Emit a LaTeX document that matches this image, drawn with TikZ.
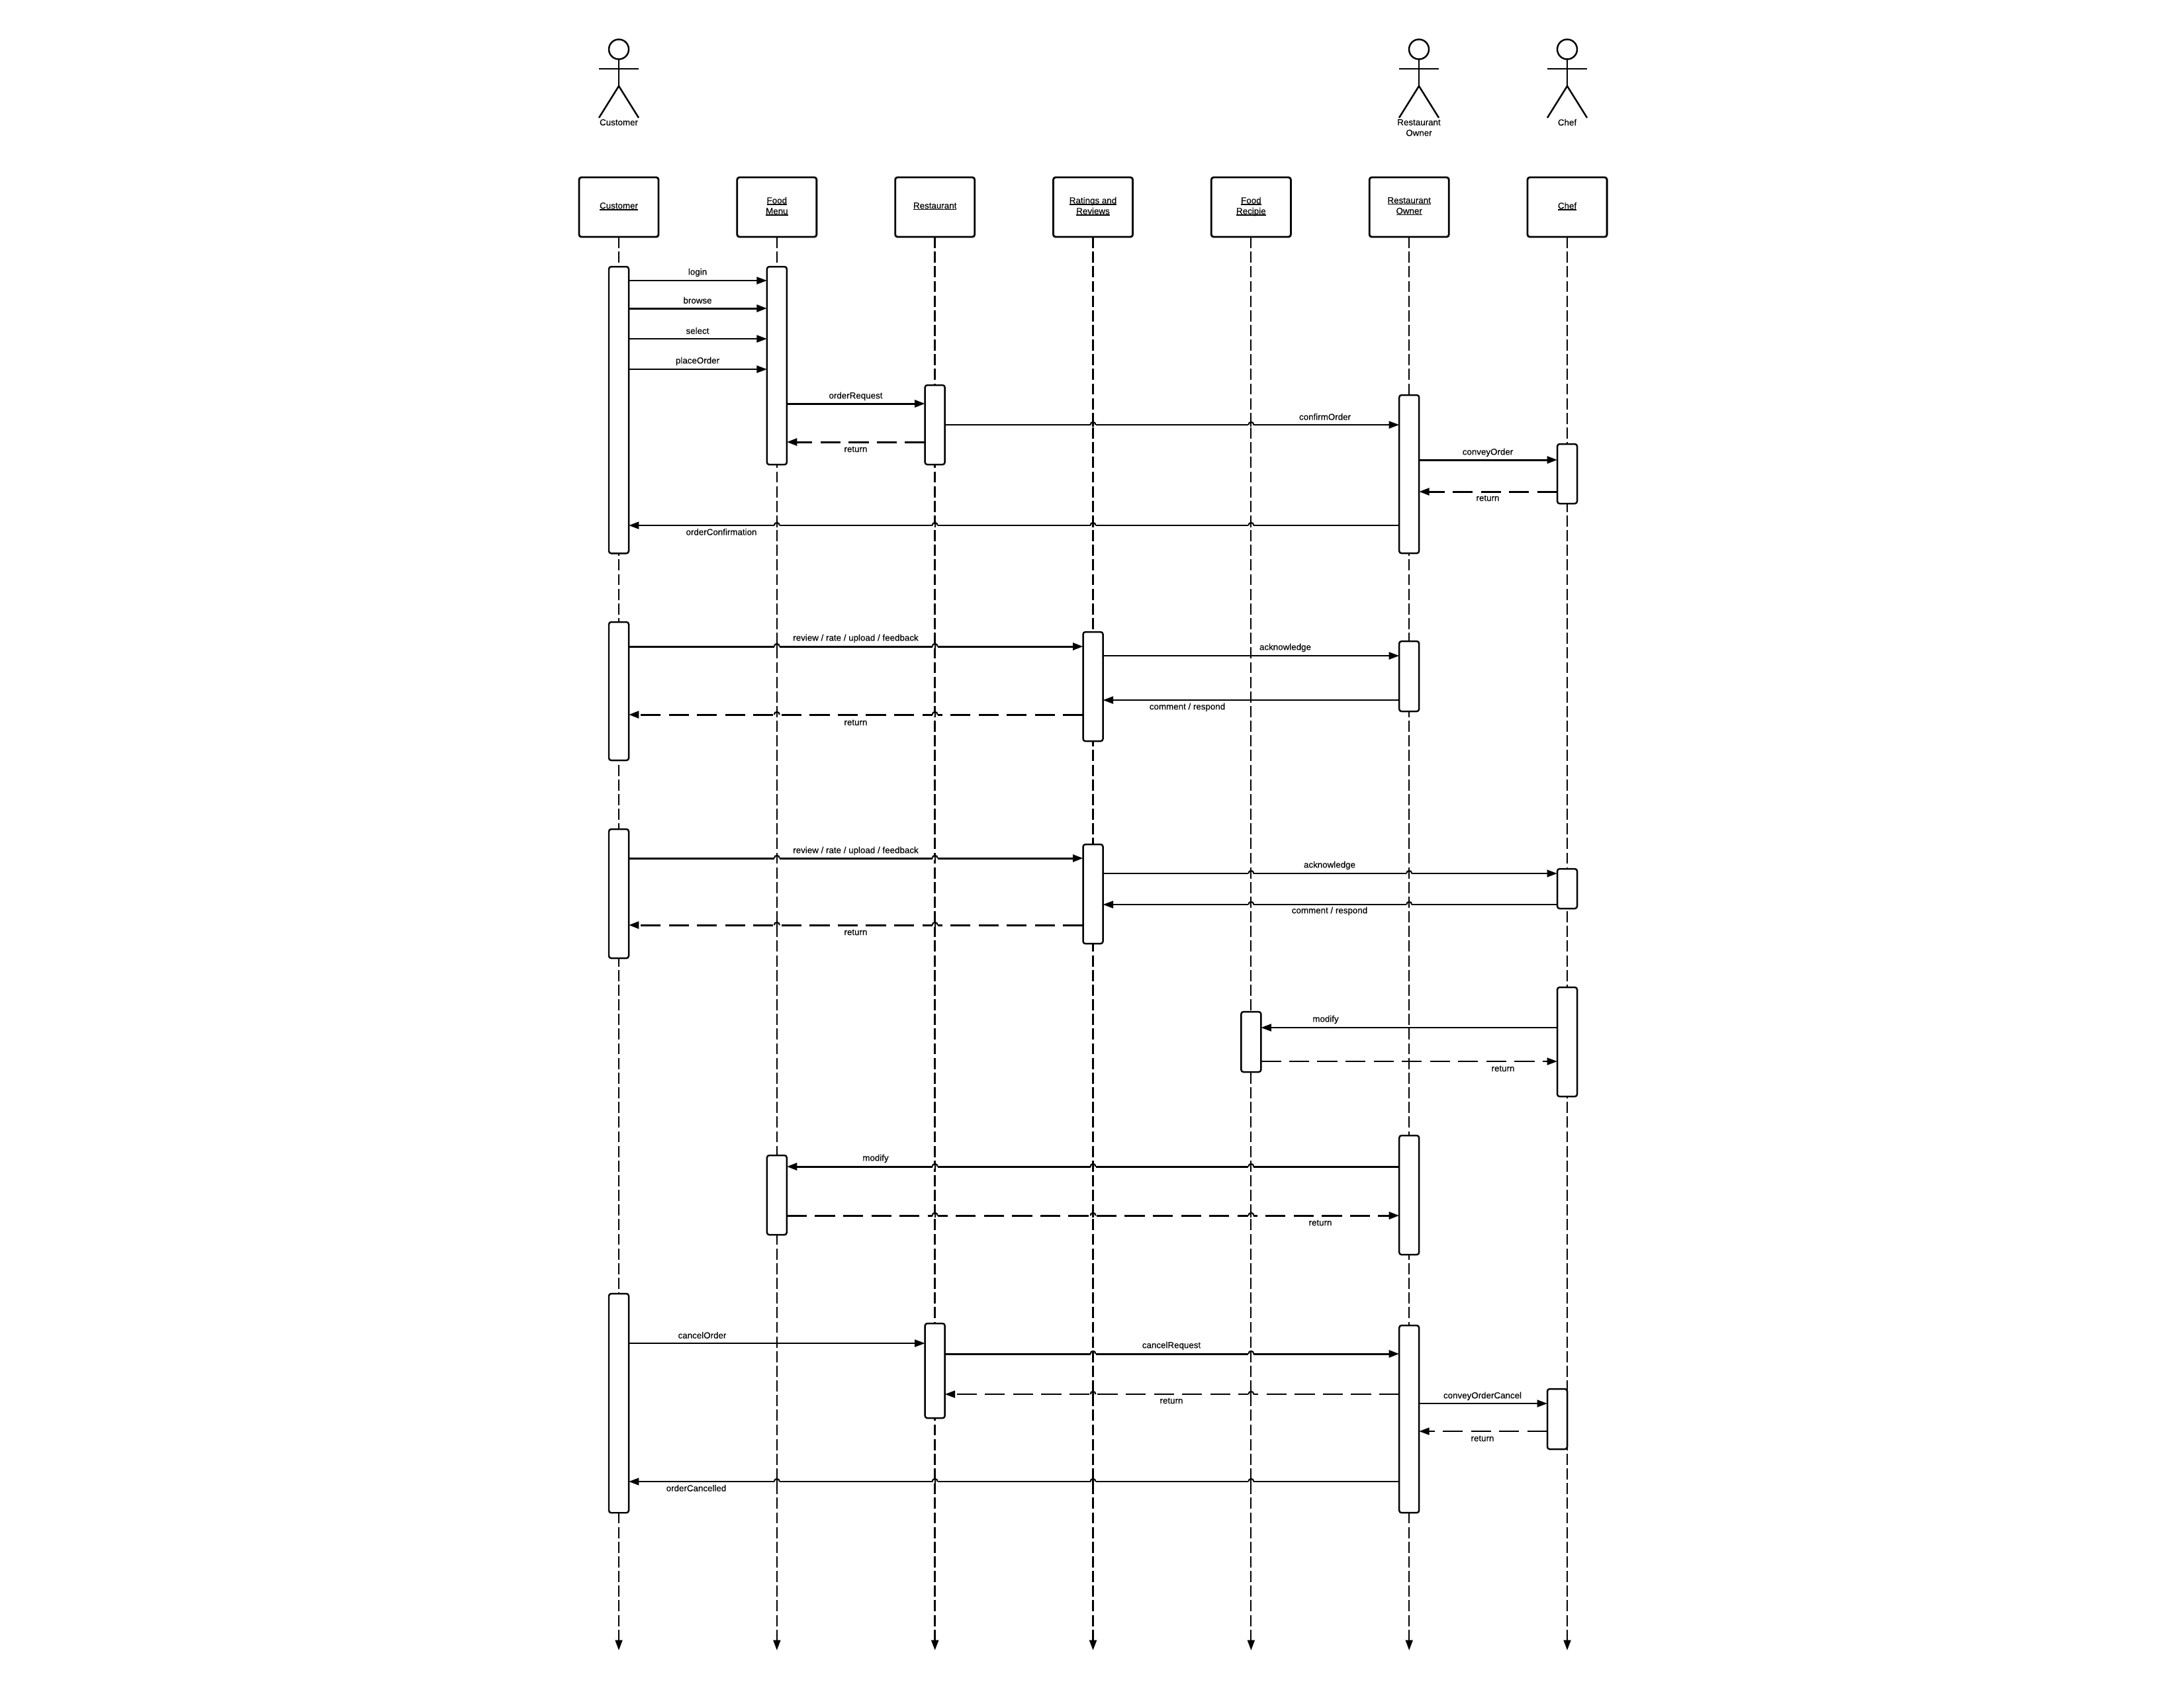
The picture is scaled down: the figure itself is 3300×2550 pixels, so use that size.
\documentclass[tikz,border=0pt]{standalone}
\usepackage{fontspec}
\setmainfont{Liberation Sans}[FakeBold=0.25]
\usetikzlibrary{arrows.meta,positioning}
\newlength{\ulwd}
\newcommand{\ul}[1]{\settowidth{\ulwd}{#1}#1\kern-\ulwd\rule[-0.6pt]{\ulwd}{0.42pt}}
\newcommand{\hop}[2]{\begin{scope}[shift={(#1.south |- 0,#2)}]
    \fill[white] (-4,-2.5) rectangle (4,2.5);
    \draw[line width=0.6pt] (-4,0) .. controls (-4,-5.5) and (4,-5.5) .. (4,0);
    \draw[line width=0.6pt] (0,-5) -- (0,2.5);
\end{scope}}

\begin{document}
\begin{tikzpicture}[
    x=0.01cm, y=-0.01cm,
    node distance=1.187cm,
    >={Triangle[length=4.4pt,width=3.1pt]},
    headbox/.style={rectangle, draw, line width=0.8pt, rounded corners=1pt, fill=white, outer sep=0pt, minimum width=1.2cm, minimum height=0.9cm, align=center, text depth=1.3pt, font=\fontsize{3.8pt}{4.55pt}\selectfont},
    act/.style={rectangle, draw, line width=0.7pt, rounded corners=1pt, fill=white, outer sep=0pt, inner sep=0pt, minimum width=0.3cm, anchor=north},
    lbl/.style={inner sep=0pt, align=center, yshift=-0.25pt, font=\fontsize{3.8pt}{4.55pt}\selectfont},
    life/.style={->, line width=0.6pt, dash pattern=on 4.8pt off 1.5pt},
    lifeb/.style={->, line width=0.8pt, dash pattern=on 4.8pt off 1.5pt},
    msg/.style={->, line width=0.65pt},
    msgb/.style={->, line width=0.85pt},
    ret/.style={->, line width=0.65pt, dash pattern=on 8.6pt off 3.5pt},
    retb/.style={->, line width=0.85pt, dash pattern=on 8.6pt off 3.5pt},
    stickman/.pic={
        \draw[line width=0.7pt] (0,15.5) circle[radius=15];
        \draw[line width=0.7pt] (-30,45) -- (30,45);
        \draw[line width=0.7pt] (0,31) -- (0,71);
        \draw[line width=0.7pt] (-30,119) -- (0,71) -- (30,119);
    }
]
    \useasboundingbox (0,0) rectangle (3300,2550);

    \pic at (935,59) {stickman};
    \pic at (2144,59) {stickman};
    \pic at (2368,59) {stickman};
    \node[lbl] (custLbl) at (935,184) {Customer};
    \node[lbl] (ownerLbl) at (2144,192) {Restaurant\\Owner};
    \node[lbl] (chefLbl) at (2368,184) {Chef};

    \node[headbox] (cust) at (935,313) {\ul{Customer}};
    \node[headbox, right=of cust] (menu) {\ul{Food}\\\ul{Menu}};
    \node[headbox, right=of menu] (rest) {\ul{Restaurant}};
    \node[headbox, right=of rest] (rate) {\ul{Ratings and}\\\ul{Reviews}};
    \node[headbox, right=of rate] (recipe) {\ul{Food}\\\ul{Recipie}};
    \node[headbox, right=of recipe] (owner) {\ul{Restaurant}\\\ul{Owner}};
    \node[headbox, right=of owner] (chef) {\ul{Chef}};

    \coordinate (custEnd) at (cust.south |- 0,2494);
    \coordinate (menuEnd) at (menu.south |- 0,2494);
    \coordinate (restEnd) at (rest.south |- 0,2494);
    \coordinate (rateEnd) at (rate.south |- 0,2494);
    \coordinate (recipeEnd) at (recipe.south |- 0,2494);
    \coordinate (ownerEnd) at (owner.south |- 0,2494);
    \coordinate (chefEnd) at (chef.south |- 0,2494);
    \draw[life] (cust.south) -- (custEnd);
    \draw[life] (menu.south) -- (menuEnd);
    \draw[lifeb] (rest.south) -- (restEnd);
    \draw[lifeb] (rate.south) -- (rateEnd);
    \draw[life] (recipe.south) -- (recipeEnd);
    \draw[life] (owner.south) -- (ownerEnd);
    \draw[life] (chef.south) -- (chefEnd);

    \node[act, minimum height=4.33cm] (custA) at (cust.south |- 0,403) {};
    \node[act, minimum height=2.99cm] (menuA) at (menu.south |- 0,403) {};
    \node[act, minimum height=1.20cm] (restA) at (rest.south |- 0,582) {};
    \node[act, minimum height=2.39cm] (ownerA) at (owner.south |- 0,597) {};
    \node[act, minimum height=0.90cm] (chefA) at (chef.south |- 0,671) {};
    \node[act, minimum height=2.09cm] (custB) at (cust.south |- 0,940) {};
    \node[act, minimum height=1.65cm] (rateB) at (rate.south |- 0,955) {};
    \node[act, minimum height=1.06cm] (ownerB) at (owner.south |- 0,969) {};
    \node[act, minimum height=1.95cm] (custC) at (cust.south |- 0,1253) {};
    \node[act, minimum height=1.50cm] (rateC) at (rate.south |- 0,1276) {};
    \node[act, minimum height=0.60cm] (chefC) at (chef.south |- 0,1313) {};
    \node[act, minimum height=1.65cm] (chefD) at (chef.south |- 0,1492) {};
    \node[act, minimum height=0.91cm] (recipeD) at (recipe.south |- 0,1529) {};
    \node[act, minimum height=1.80cm] (ownerE) at (owner.south |- 0,1716) {};
    \node[act, minimum height=1.20cm] (menuE) at (menu.south |- 0,1746) {};
    \node[act, minimum height=3.31cm] (custF) at (cust.south |- 0,1955) {};
    \node[act, minimum height=1.43cm] (restF) at (rest.south |- 0,2000) {};
    \node[act, minimum height=2.83cm] (ownerF) at (owner.south |- 0,2003) {};
    \node[act, minimum height=0.91cm] (chefF) at (2353,2099) {};

    \draw[msg] (custA.east |- 0,424) -- (menuA.west |- 0,424);
    \draw[msgb] (custA.east |- 0,466) -- (menuA.west |- 0,466);
    \draw[msg] (custA.east |- 0,512) -- (menuA.west |- 0,512);
    \draw[msg] (custA.east |- 0,558) -- (menuA.west |- 0,558);
    \draw[msgb] (menuA.east |- 0,610) -- (restA.west |- 0,610);
    \draw[msg] (restA.east |- 0,642) -- (ownerA.west |- 0,642);
    \hop{rate}{642} \hop{recipe}{642}
    \draw[retb] (restA.west |- 0,668) -- (menuA.east |- 0,668);
    \draw[msgb] (ownerA.east |- 0,695) -- (chefA.west |- 0,695);
    \draw[retb] (chefA.west |- 0,743) -- (ownerA.east |- 0,743);
    \draw[msg] (ownerA.west |- 0,794) -- (custA.east |- 0,794);
    \hop{menu}{794} \hop{rest}{794} \hop{rate}{794} \hop{recipe}{794}

    \draw[msgb] (custB.east |- 0,977) -- (rateB.west |- 0,977);
    \hop{menu}{977} \hop{rest}{977}
    \draw[msg] (rateB.east |- 0,991) -- (ownerB.west |- 0,991);
    \draw[msg] (ownerB.west |- 0,1058) -- (rateB.east |- 0,1058);
    \draw[retb] (rateB.west |- 0,1080) -- (custB.east |- 0,1080);
    \hop{menu}{1080} \hop{rest}{1080}

    \draw[msgb] (custC.east |- 0,1297) -- (rateC.west |- 0,1297);
    \hop{menu}{1297} \hop{rest}{1297}
    \draw[msg] (rateC.east |- 0,1320) -- (chefC.west |- 0,1320);
    \hop{recipe}{1320} \hop{owner}{1320}
    \draw[msg] (chefC.west |- 0,1367) -- (rateC.east |- 0,1367);
    \hop{recipe}{1367} \hop{owner}{1367}
    \draw[retb] (rateC.west |- 0,1398) -- (custC.east |- 0,1398);
    \hop{menu}{1398} \hop{rest}{1398}

    \draw[msg] (chefD.west |- 0,1553) -- (recipeD.east |- 0,1553);
    \draw[ret] (recipeD.east |- 0,1604) -- (chefD.west |- 0,1604);

    \draw[msgb] (ownerE.west |- 0,1763) -- (menuE.east |- 0,1763);
    \hop{rest}{1763} \hop{rate}{1763} \hop{recipe}{1763}
    \draw[retb] (menuE.east |- 0,1837) -- (ownerE.west |- 0,1837);
    \hop{rest}{1837} \hop{rate}{1837} \hop{recipe}{1837}

    \draw[msg] (custF.east |- 0,2030) -- (restF.west |- 0,2030);
    \draw[msgb] (restF.east |- 0,2046) -- (ownerF.west |- 0,2046);
    \hop{rate}{2046} \hop{recipe}{2046}
    \draw[ret] (ownerF.west |- 0,2107) -- (restF.east |- 0,2107);
    \hop{rate}{2107} \hop{recipe}{2107}
    \draw[msg] (ownerF.east |- 0,2121) -- (chefF.west |- 0,2121);
    \draw[ret] (chefF.west |- 0,2163) -- (ownerF.east |- 0,2163);
    \draw[msg] (ownerF.west |- 0,2239) -- (custF.east |- 0,2239);
    \hop{menu}{2239} \hop{rest}{2239} \hop{rate}{2239} \hop{recipe}{2239}

    \node[lbl] (login) at (1054,411) {login};
    \node[lbl] (browse) at (1054,453) {browse};
    \node[lbl] (select) at (1054,499) {select};
    \node[lbl] (placeOrder) at (1054,545) {placeOrder};
    \node[lbl] (orderRequest) at (1293,598) {orderRequest};
    \node[lbl] (retA) at (1293,678) {return};
    \node[lbl] (confirmOrder) at (2002,629) {confirmOrder};
    \node[lbl] (conveyOrder) at (2248,683) {conveyOrder};
    \node[lbl] (retB) at (2248,752) {return};
    \node[lbl] (orderConfirmation) at (1090,803) {orderConfirmation};
    \node[lbl] (reviewA) at (1293,964) {review / rate / upload / feedback};
    \node[lbl] (ackA) at (1942,978) {acknowledge};
    \node[lbl] (commentA) at (1794,1068) {comment / respond};
    \node[lbl] (retC) at (1293,1091) {return};
    \node[lbl] (reviewB) at (1293,1285) {review / rate / upload / feedback};
    \node[lbl] (ackB) at (2009,1307) {acknowledge};
    \node[lbl] (commentB) at (2009,1376) {comment / respond};
    \node[lbl] (retD) at (1293,1408) {return};
    \node[lbl] (modifyA) at (2003,1540) {modify};
    \node[lbl] (retE) at (2271,1614) {return};
    \node[lbl] (modifyB) at (1323,1750) {modify};
    \node[lbl] (retF) at (1995,1847) {return};
    \node[lbl] (cancelOrder) at (1061,2017) {cancelOrder};
    \node[lbl] (cancelRequest) at (1770,2033) {cancelRequest};
    \node[lbl] (retG) at (1770,2116) {return};
    \node[lbl] (conveyOrderCancel) at (2240,2109) {conveyOrderCancel};
    \node[lbl] (retH) at (2240,2173) {return};
    \node[lbl] (orderCancelled) at (1052,2248) {orderCancelled};
\end{tikzpicture}
\end{document}
